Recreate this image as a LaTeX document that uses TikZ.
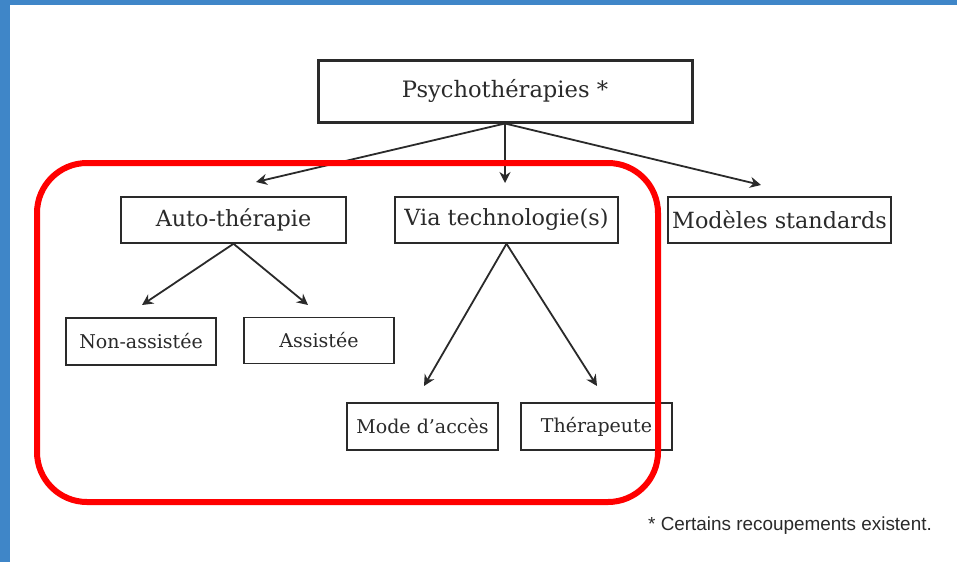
\documentclass[tikz,border=0pt]{standalone}
\usepackage{fontspec}
\setmainfont{DejaVu Serif}
\newfontfamily\notefont{Liberation Sans}
\usetikzlibrary{arrows.meta}
\definecolor{bgblue}{HTML}{3F86C8}
\definecolor{ink}{HTML}{2A2A2A}
\definecolor{frame}{HTML}{FF0000}
\tikzset{
  boxA/.style={draw=ink, line width=1.5pt, text=ink, inner sep=0pt, font=\fontsize{22.3}{26}\selectfont},
  boxB/.style={draw=ink, line width=1.5pt, text=ink, inner sep=0pt, font=\fontsize{19}{22}\selectfont},
  topbox/.style={draw=ink, line width=3pt, text=ink, inner sep=0pt, font=\fontsize{22.6}{26}\selectfont},
  arr/.style={draw=ink, line width=1.8pt, -{Stealth[length=11pt,width=11pt]}},
}
\begin{document}
\begin{tikzpicture}[x=1pt,y=-1pt]
\useasboundingbox (0,0) rectangle (957,562);
\fill[bgblue] (0,0) rectangle (957,562);
\fill[white] (10,5) rectangle (957,562);
% boxes
\node[topbox, minimum width=374pt, minimum height=62pt] (psy) at (505,91) {Psychothérapies *};
\node[boxA, minimum width=225pt, minimum height=46pt] (auto) at (233.5,220) {Auto-thérapie};
\node[boxA, minimum width=223pt, minimum height=46pt] (via) at (506.5,220) {Via technologie(s)};
\node[boxA, minimum width=223pt, minimum height=46pt] (mod) at (779.5,220) {Modèles standards};
\node[boxB, minimum width=150pt, minimum height=47pt] (non) at (141,341.5) {Non-assistée};
\node[boxB, minimum width=150pt, minimum height=46pt] (ass) at (319,340.5) {Assistée};
\node[boxB, minimum width=151pt, minimum height=47pt] (mode) at (422.5,426.5) {Mode d’accès};
\node[boxB, minimum width=151pt, minimum height=47pt] (ther) at (596.5,426.5) {Thérapeute};
% arrow tips
\coordinate (tAuto) at (256,182);
\coordinate (tVia) at (505,183);
\coordinate (tMod) at (761,185);
\coordinate (tNon) at (142,305);
\coordinate (tAss) at (308,305);
\coordinate (tMode) at (424,386);
\coordinate (tTher) at (597,386);
\draw[arr] (psy.south) -- (tAuto);
\draw[arr] (psy.south) -- (tVia);
\draw[arr] (psy.south) -- (tMod);
\draw[arr] (auto.south) -- (tNon);
\draw[arr] (auto.south) -- (tAss);
\draw[arr] (via.south) -- (tMode);
\draw[arr] (via.south) -- (tTher);
% red frame (on top)
\draw[frame, line width=6pt, rounded corners=50pt] (37,163) rectangle (658,502);
% footnote
\node[text=ink, anchor=base east, inner sep=0pt, font=\notefont\fontsize{18.9}{22}\selectfont] (note) at (932,530) {* Certains recoupements existent.};
\end{tikzpicture}
\end{document}
